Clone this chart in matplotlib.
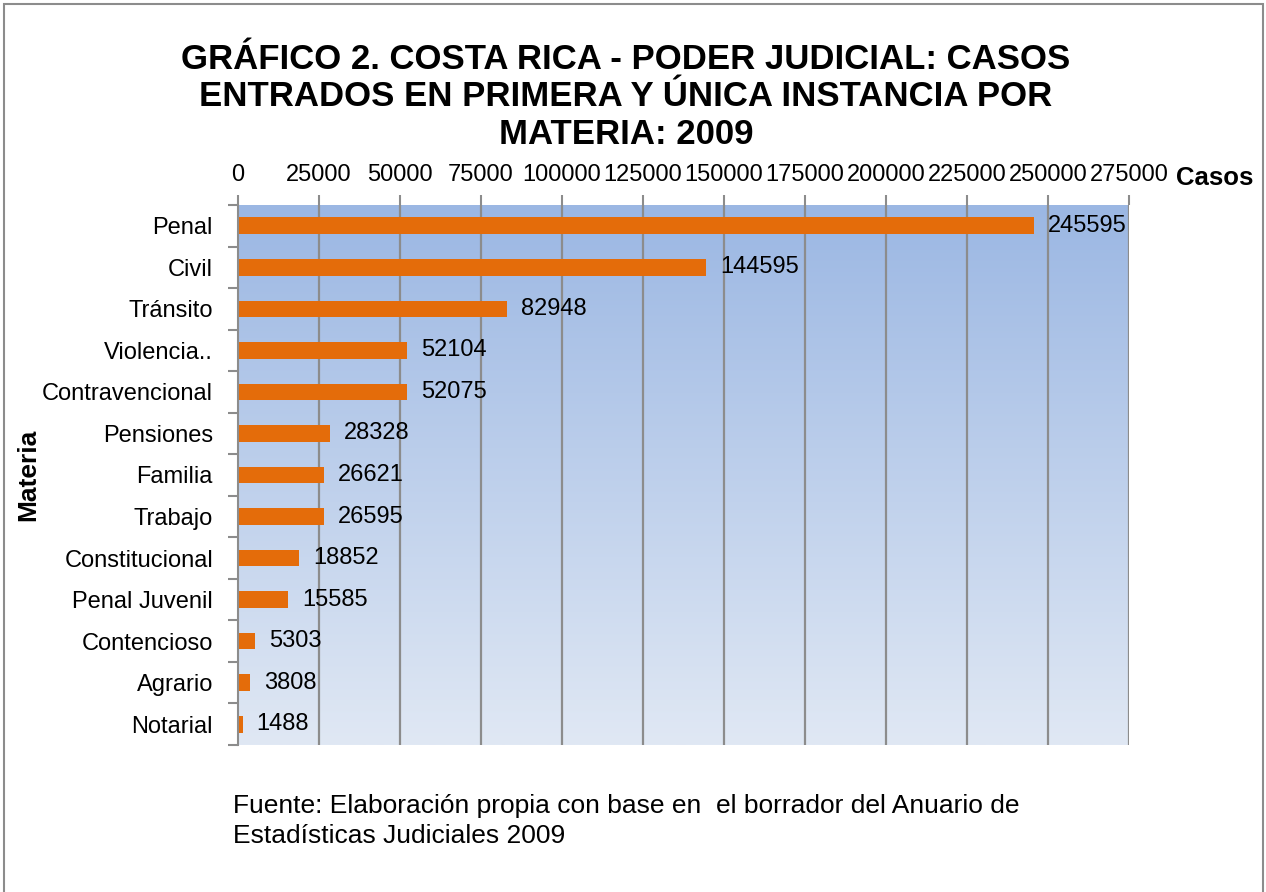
import numpy as np
import matplotlib.pyplot as plt
from matplotlib.colors import LinearSegmentedColormap
from matplotlib.patches import Rectangle

plt.rcParams['font.family'] = ['Liberation Sans', 'DejaVu Sans']

materias = ["Penal", "Civil", "Tránsito", "Violencia..", "Contravencional",
            "Pensiones", "Familia", "Trabajo", "Constitucional",
            "Penal Juvenil", "Contencioso", "Agrario", "Notarial"]
casos = [245595, 144595, 82948, 52104, 52075, 28328, 26621, 26595,
         18852, 15585, 5303, 3808, 1488]
xticks = np.arange(0, 275001, 25000)

fig = plt.figure(figsize=(12.66, 8.92), dpi=100)
ax = fig.add_axes([238/1266, 1-745/892, 891/1266, 540/892])

n = len(materias)
ypos = np.arange(n)

# gradient background
cmap = LinearSegmentedColormap.from_list("bg", ["#9bb7e3", "#e0e8f4"])
grad = np.linspace(0, 1, 256).reshape(-1, 1)
ax.imshow(grad, cmap=cmap, aspect='auto', extent=[0, 275000, n - 0.5, -0.5],
          zorder=0)

for x in xticks[1:]:
    ax.axvline(x, color="#8c8c8c", lw=1.6, zorder=1)

ax.barh(ypos, casos, height=0.4, color="#e46c0a", zorder=2)
for y, v in zip(ypos, casos):
    ax.annotate(str(v), (v, y), xytext=(10, 0), textcoords="offset points",
                va="center", ha="left", fontsize=17, zorder=3)

ax.set_xlim(0, 275000)
ax.set_ylim(n - 0.5, -0.5)
ax.xaxis.tick_top()
ax.set_xticks(xticks)
ax.set_xticklabels([str(t) for t in xticks], fontsize=17)
ax.tick_params(axis='x', length=7, width=1.5, color="#8c8c8c", pad=7)
ax.set_yticks(ypos)
ax.set_yticklabels(materias, fontsize=17)
ax.set_yticks(np.arange(-0.5, n, 1), minor=True)
ax.tick_params(axis='y', which='major', length=0, pad=18)
ax.tick_params(axis='y', which='minor', length=7, width=1.5, color="#8c8c8c")
for s in ["top", "right", "bottom"]:
    ax.spines[s].set_visible(False)
ax.spines["left"].set_color("#8c8c8c")
ax.spines["left"].set_linewidth(1.5)

fig.text(626/1266, 1-97/892,
         "GRÁFICO 2. COSTA RICA - PODER JUDICIAL: CASOS\n"
         "ENTRADOS EN PRIMERA Y ÚNICA INSTANCIA POR\nMATERIA: 2009",
         ha="center", va="center", fontsize=25, fontweight="bold",
         linespacing=1.18)
fig.text(1215/1266, 1-178/892, "Casos", ha="center", va="center",
         fontsize=18.5, fontweight="bold")
fig.text(28/1266, 1-475/892, "Materia", ha="center", va="center",
         fontsize=19, fontweight="bold", rotation=90)
fig.text(233/1266, 1-821/892,
         "Fuente: Elaboración propia con base en  el borrador del Anuario de\n"
         "Estadísticas Judiciales 2009",
         ha="left", va="center", fontsize=19, linespacing=1.3)

# chart border
fig.patches.append(Rectangle((4/1266, -0.05), 1259/1266, 1 - 4/892 + 0.05,
                             transform=fig.transFigure, fill=False,
                             edgecolor="#8c8c8c", lw=1.5))

fig.savefig("out.png", dpi=100)
